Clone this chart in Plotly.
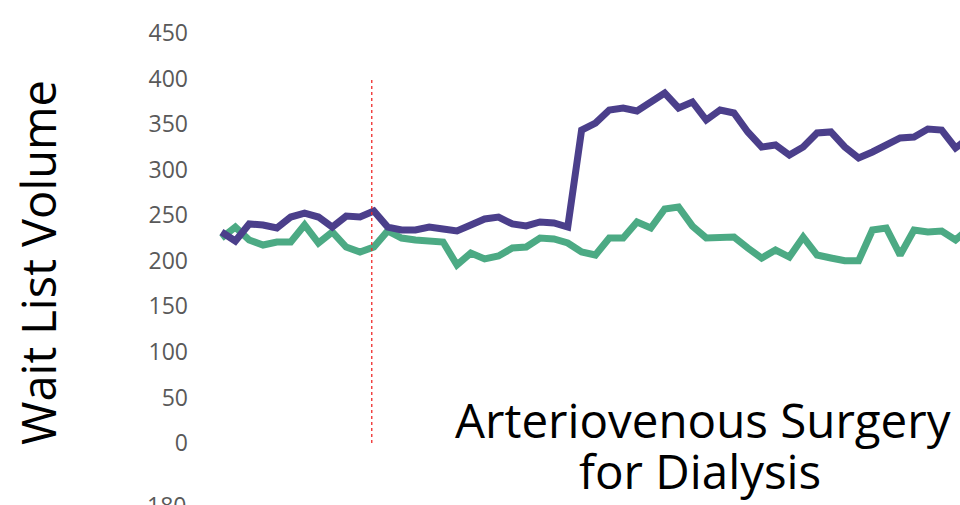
import plotly.graph_objects as go

# ---- data ----
periods = list(range(55))
series_a = [231.6, 221.7, 240.4, 239.3, 236.0, 248.0, 252.4, 248.0, 237.0, 249.0,
            248.0, 254.6, 237.0, 233.8, 233.8, 237.0, 234.9, 232.7, 239.3, 245.9,
            248.0, 240.4, 238.2, 242.6, 241.5, 237.0, 343.5, 351.2, 365.5, 367.7,
            364.4, 374.3, 384.1, 367.7, 374.3, 354.5, 365.5, 362.2, 341.4, 324.9,
            327.1, 316.1, 324.9, 340.3, 341.4, 324.9, 312.8, 319.4, 327.1, 334.8,
            335.9, 344.6, 343.5, 323.8, 335.0]
series_b = [225.0, 237.0, 222.8, 217.3, 220.6, 220.6, 239.3, 219.5, 231.6, 215.1,
            209.6, 215.1, 232.7, 225.0, 222.8, 221.7, 220.6, 195.4, 208.5, 202.0,
            205.2, 214.0, 215.1, 225.0, 224.0, 219.5, 209.6, 206.3, 225.0, 225.0,
            242.6, 236.0, 256.8, 259.0, 238.0, 225.0, 225.5, 226.0, 214.0, 203.0,
            211.8, 204.1, 226.0, 206.3, 203.0, 200.0, 200.0, 233.8, 236.0, 206.3,
            233.8, 231.6, 232.7, 222.8, 236.0]
y_ticks = [0, 50, 100, 150, 200, 250, 300, 350, 400, 450]
event_period = 10.85
event_top = 400
y_title = "Wait List Volume"
panel_label = ["Arteriovenous Surgery", "for Dialysis"]
next_panel_tick = "180"

PURPLE = "#4B3F8B"
GREEN = "#4CAA84"
FONT = "Open Sans"

fig = go.Figure()
fig.add_trace(go.Scatter(x=periods, y=series_b, mode="lines",
                         line=dict(color=GREEN, width=7), showlegend=False))
fig.add_trace(go.Scatter(x=periods, y=series_a, mode="lines",
                         line=dict(color=PURPLE, width=7), showlegend=False))

fig.add_shape(type="line", xref="x", yref="y", x0=event_period, x1=event_period,
              y0=0, y1=event_top, line=dict(color="#EE2A2A", width=1.3, dash="dot"))

W, H = 960, 505
L, R, T, B = 195, 0, 33, 62
spacing = 13.85
first_px = 221.5
r0 = -(first_px - L) / spacing
r1 = (W - R - first_px) / spacing
PW, PH = W - L - R, H - T - B


def px_x(p):
    return (p - L) / PW


def px_y(p):
    return (H - B - p) / PH


fig.update_layout(
    width=W, height=H,
    margin=dict(l=L, r=R, t=T, b=B, autoexpand=False),
    paper_bgcolor="white", plot_bgcolor="white",
    font=dict(family=FONT),
    xaxis=dict(visible=False, range=[r0, r1]),
    yaxis=dict(range=[0, 450], tickvals=y_ticks, showgrid=False, zeroline=False,
               showline=False, ticks="", automargin=False,
               tickfont=dict(size=23, color="#595959", family=FONT),
               ticklabelstandoff=6),
)

fig.add_annotation(text=y_title, textangle=-90, xref="paper", yref="paper",
                   x=px_x(38), y=px_y(263),
                   xanchor="center", yanchor="middle", showarrow=False,
                   font=dict(size=47, color="black", family=FONT))
fig.add_annotation(text=panel_label[0], xref="paper", yref="paper",
                   x=px_x(703), y=px_y(419),
                   xanchor="center", yanchor="middle", showarrow=False,
                   font=dict(size=47.5, color="black", family=FONT))
fig.add_annotation(text=panel_label[1], xref="paper", yref="paper",
                   x=px_x(700), y=px_y(470),
                   xanchor="center", yanchor="middle", showarrow=False,
                   font=dict(size=47.5, color="black", family=FONT))
fig.add_annotation(text=next_panel_tick, xref="paper", yref="paper",
                   x=px_x(188), y=px_y(505),
                   xanchor="right", yanchor="middle", showarrow=False,
                   font=dict(size=23, color="#595959", family=FONT))

fig.write_html("out.html", config={"displayModeBar": False},
               post_script="document.body.style.margin='0';document.body.style.overflow='hidden';")
